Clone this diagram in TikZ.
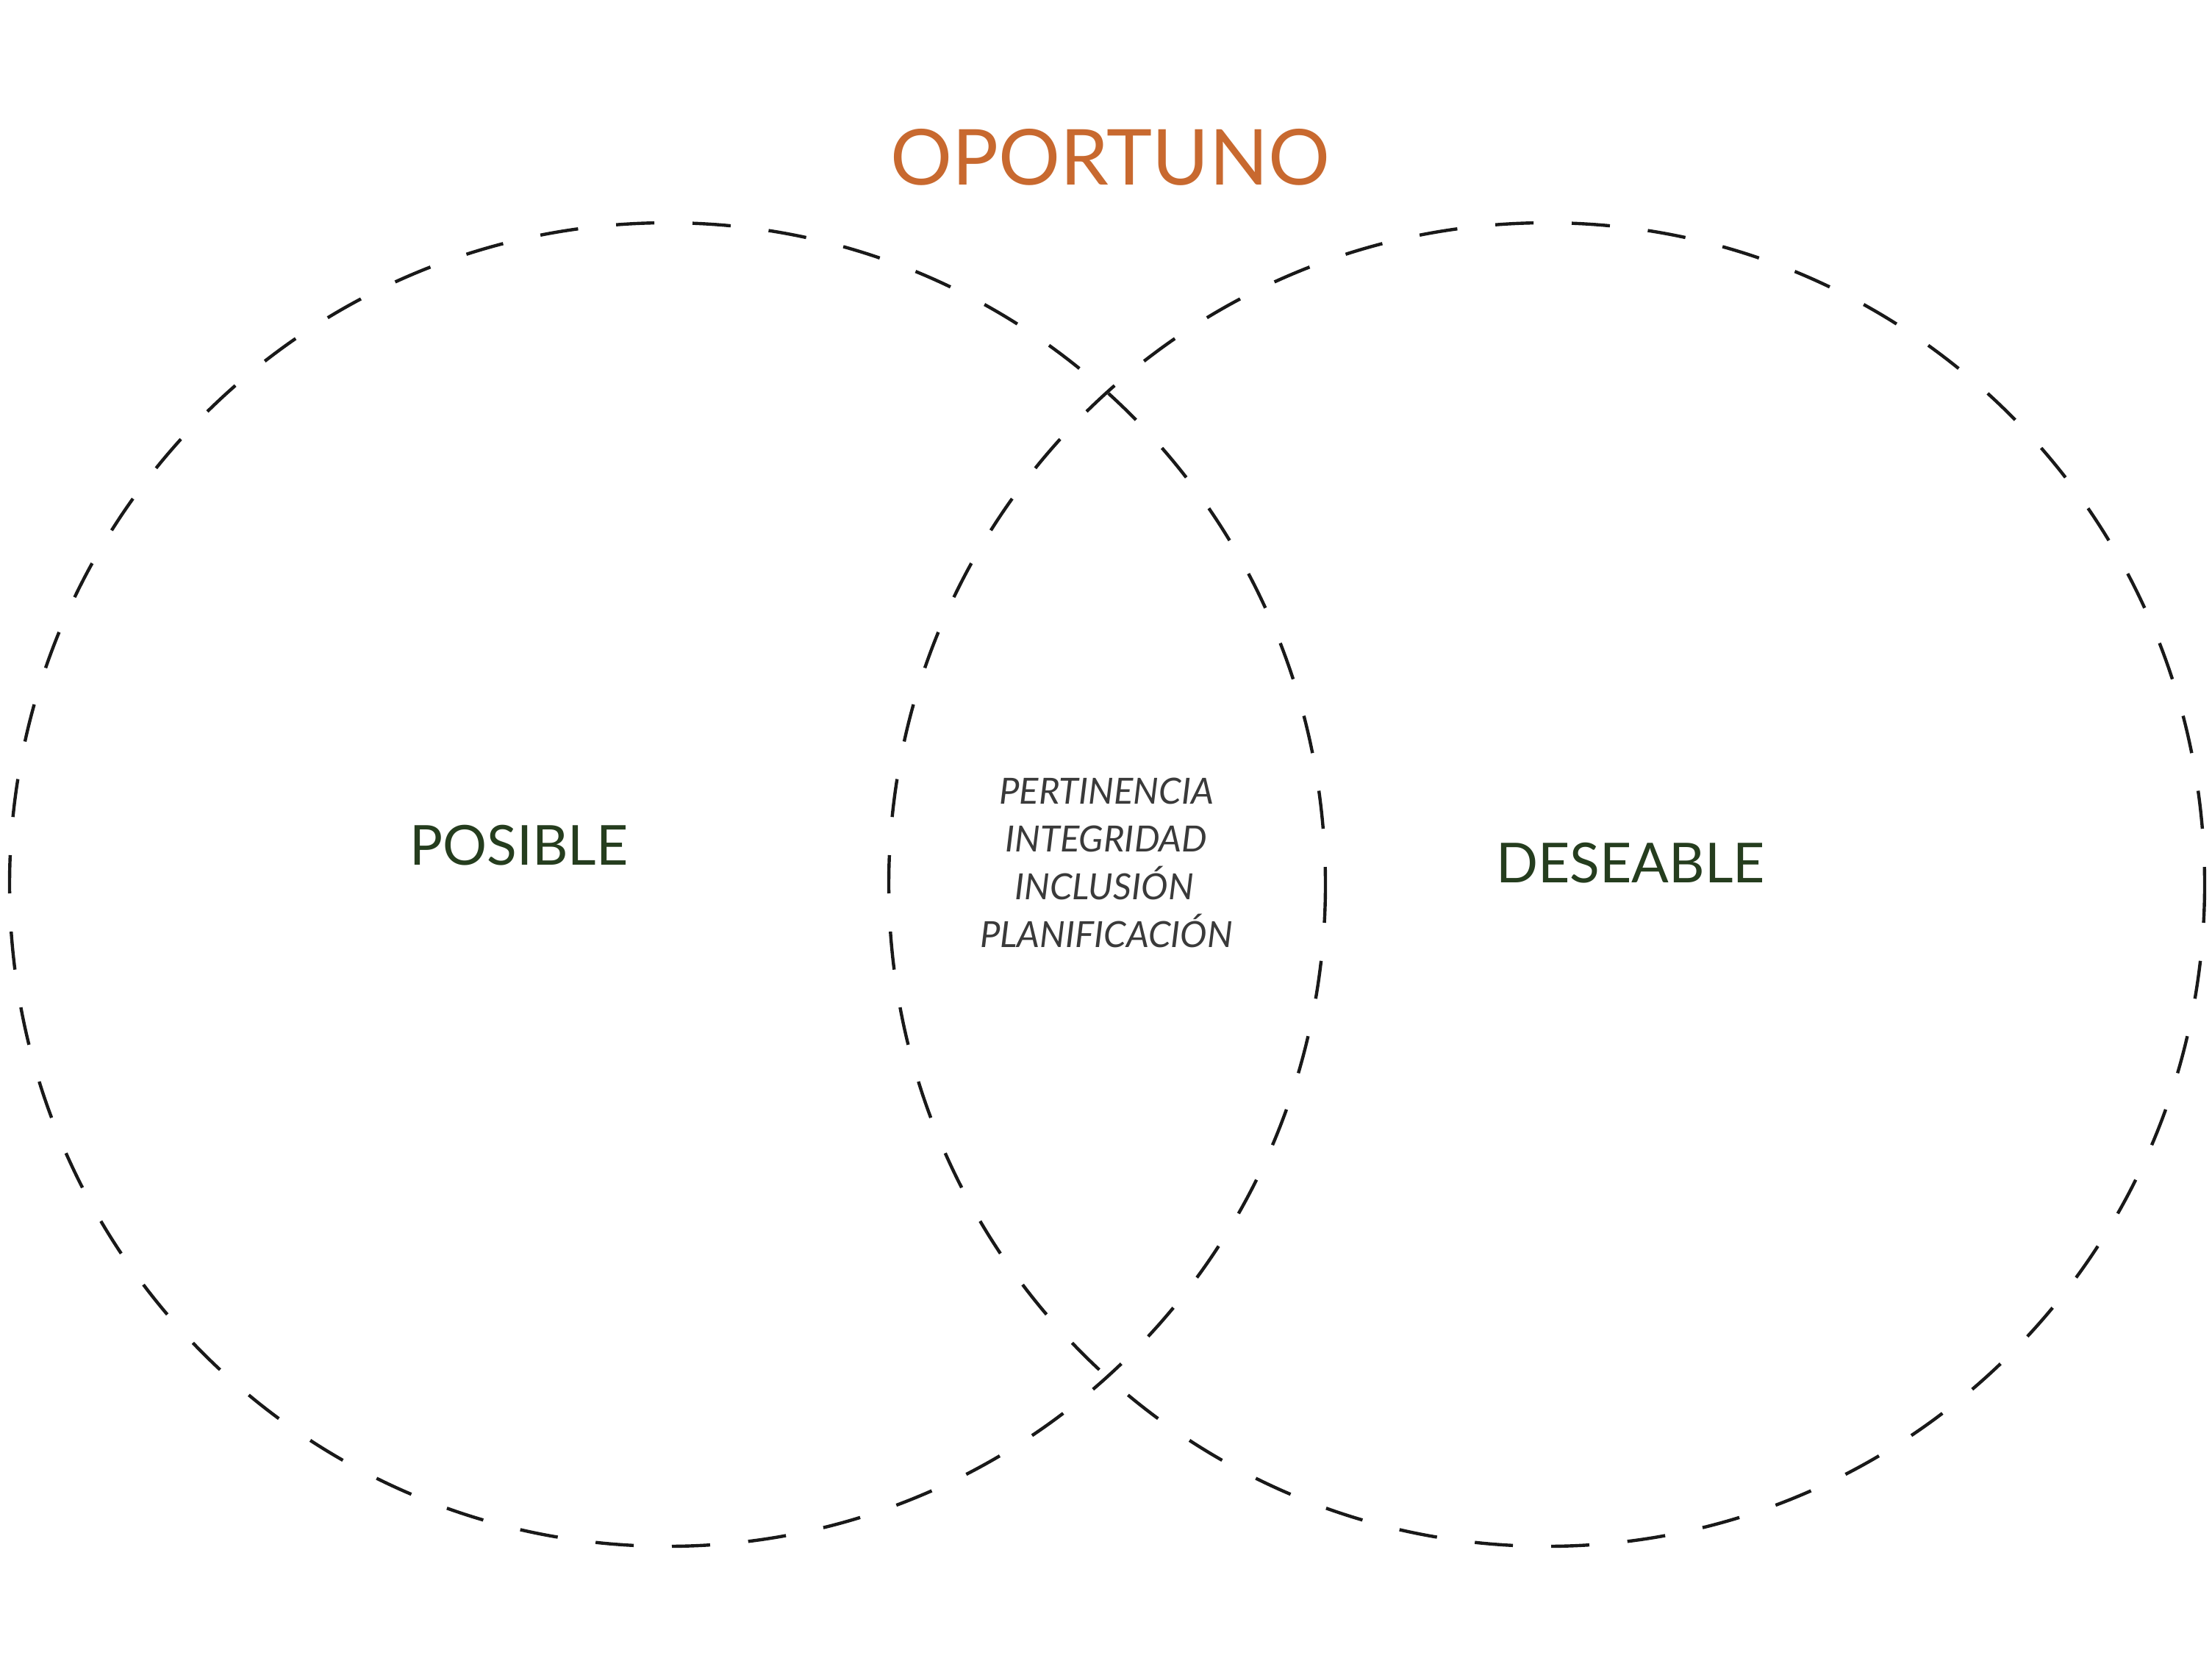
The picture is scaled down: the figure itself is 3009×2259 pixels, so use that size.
\documentclass[tikz,border=0pt]{standalone}
\usepackage{fontspec}
\setmainfont{Lato}
\usetikzlibrary{shapes.geometric}
\definecolor{oporange}{HTML}{C8692F}
\definecolor{opgreen}{HTML}{253D1E}
\definecolor{opgray}{HTML}{3A3A3A}
\begin{document}
\begin{tikzpicture}[x=1pt,y=-1pt,
  circ/.style={draw=black!90, line width=4.4pt, dash pattern=on 52pt off 52pt},
  title/.style={text=oporange, font=\fontsize{105}{110}\selectfont, anchor=base, inner sep=0pt},
  setlabel/.style={text=opgreen, font=\fontsize{75}{80}\selectfont, anchor=base, inner sep=0pt},
  value/.style={text=opgray, font=\itshape\fontsize{49}{54}\selectfont, anchor=base, inner sep=0pt}]
\fill[white] (0,0) rectangle (3009,2259);
\useasboundingbox (0,0) rectangle (3009,2259);
\draw[circ] (908,1203) ellipse [x radius=895, y radius=900];
\draw[circ] (2104,1203) ellipse [x radius=895, y radius=900];
\node[title] (oportuno) at (1510,251) {OPORTUNO};
\node[setlabel] (posible) at (706,1176) {POSIBLE};
\node[setlabel] (deseable) at (2218,1200) {DESEABLE};
\node[value] (v1) at (1505,1093) {PERTINENCIA};
\node[value] (v2) at (1505,1158) {INTEGRIDAD};
\node[value] (v3) at (1502,1223) {INCLUSIÓN};
\node[value] (v4) at (1505,1288) {PLANIFICACIÓN};
\end{tikzpicture}
\end{document}
